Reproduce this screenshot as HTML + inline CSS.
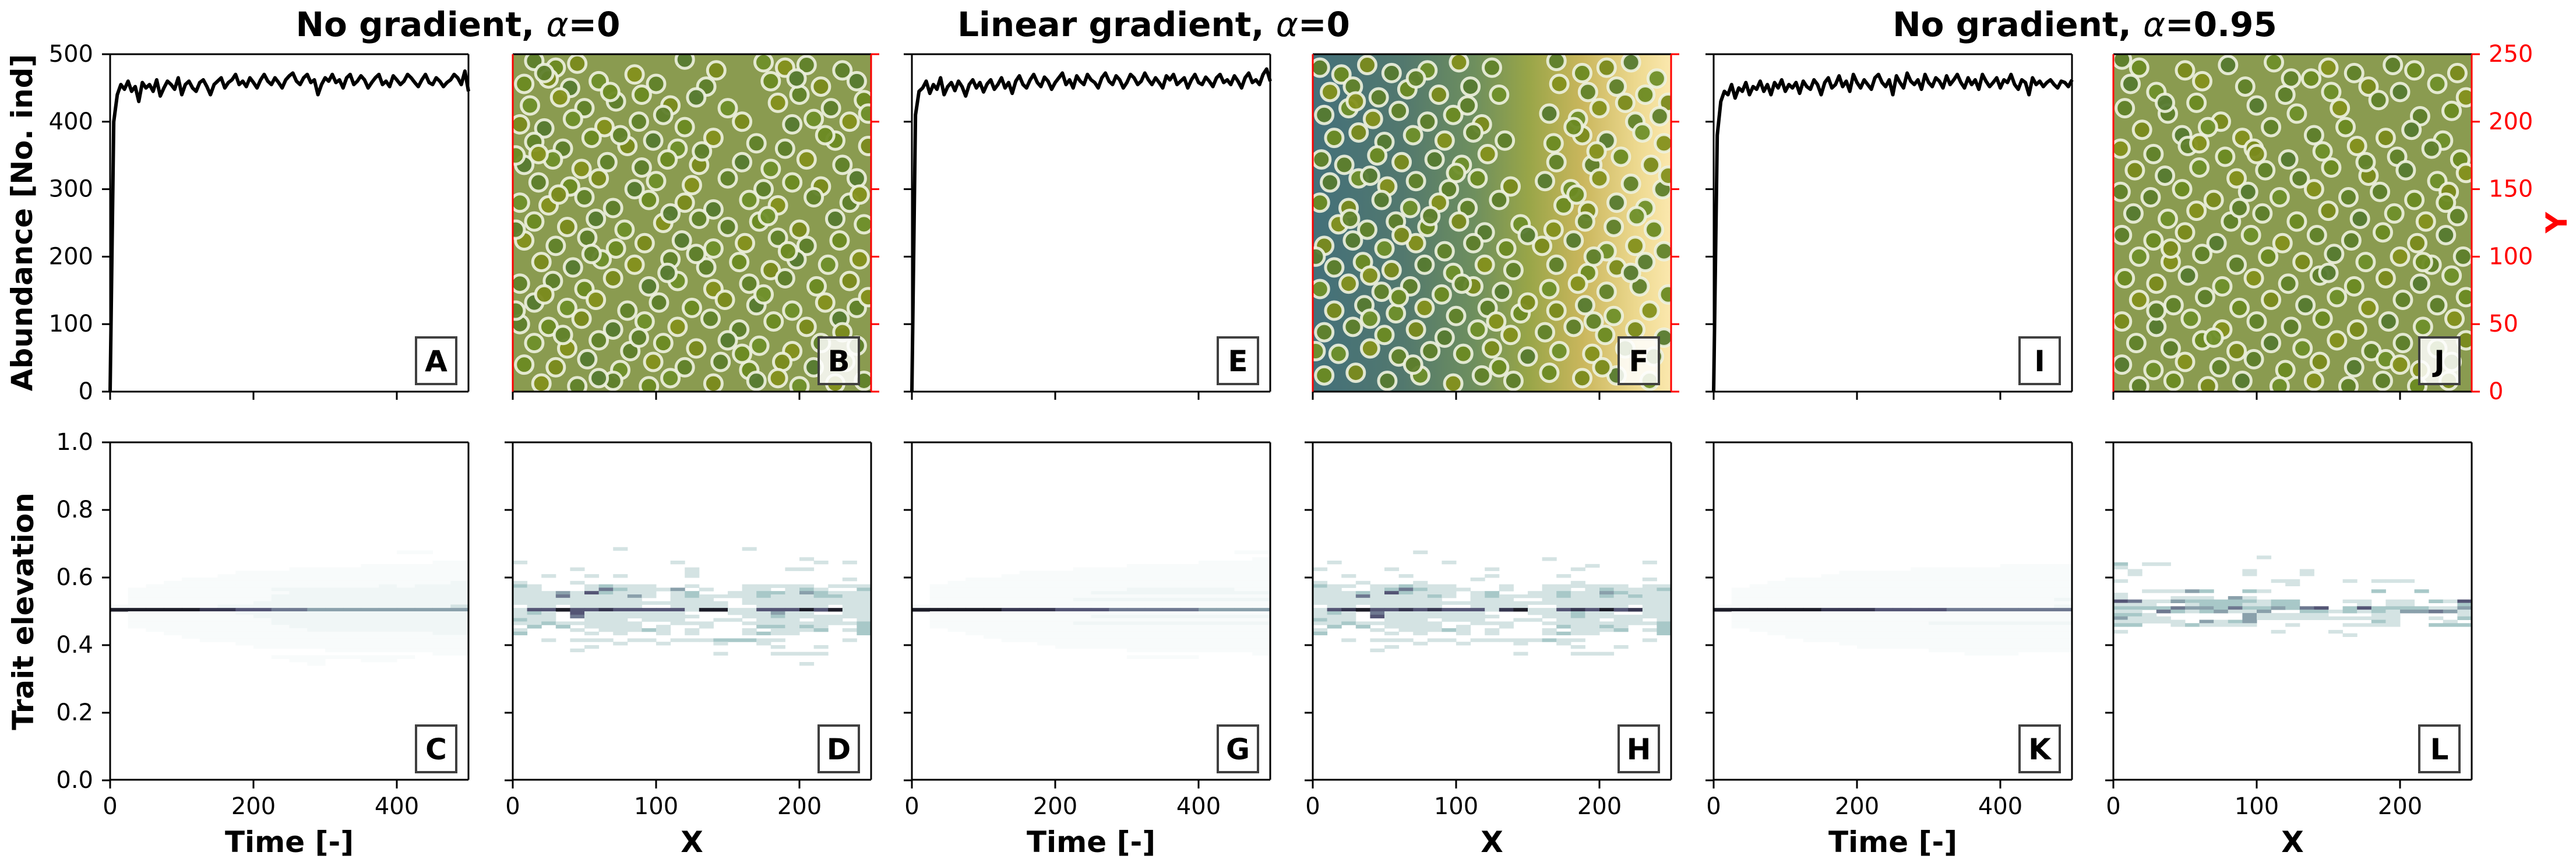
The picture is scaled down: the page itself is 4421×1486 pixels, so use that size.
<!DOCTYPE html>
<html><head><meta charset="utf-8"><style>
html,body{margin:0;padding:0;background:#fff;}
svg{display:block;font-family:"DejaVu Sans","Liberation Sans",sans-serif;}
</style></head><body>
<svg id="fig" width="4421" height="1486" viewBox="0 0 4421 1486" xmlns="http://www.w3.org/2000/svg">
<defs>
<linearGradient id="gradF" x1="0" y1="0" x2="1" y2="0">
<stop offset="0" stop-color="#43707a"/><stop offset="0.25" stop-color="#52786e"/>
<stop offset="0.45" stop-color="#6e8f5e"/><stop offset="0.6" stop-color="#98a548"/>
<stop offset="0.75" stop-color="#c9b65c"/><stop offset="0.9" stop-color="#ecd88e"/>
<stop offset="1" stop-color="#fbe8ae"/>
</linearGradient>
</defs>
</svg>
<script>
// ---------- data ----------
const abundanceA = [0,400,440,455,448,460,445,452,430,458,450,455,445,462,438,450,460,455,448,465,440,455,460,450,445,458,462,452,440,455,460,465,450,458,462,470,455,460,452,465,458,450,462,470,460,455,465,458,450,462,468,472,460,455,465,470,458,462,440,455,465,460,470,458,462,450,465,470,455,460,468,462,450,458,465,470,455,460,452,468,462,455,460,470,465,458,452,462,470,458,455,465,460,452,458,462,470,465,455,475,445];
const abundanceE = [0,410,445,450,460,442,455,448,465,440,452,458,446,460,452,438,455,462,450,458,444,456,462,448,455,465,450,458,442,460,468,455,450,462,470,458,452,466,460,448,458,465,472,455,462,450,468,460,455,470,462,458,450,465,472,460,455,468,462,450,458,470,465,455,460,472,462,455,465,458,450,468,462,470,455,460,465,450,462,470,458,455,466,460,452,465,470,458,462,455,468,460,450,465,472,458,462,455,470,478,460];
const abundanceI = [0,380,430,445,440,455,435,450,445,458,440,452,448,460,445,455,440,458,450,462,445,455,450,458,442,460,452,448,462,455,440,458,465,450,455,468,452,460,445,470,458,450,462,455,448,465,470,458,452,462,440,468,458,450,472,460,455,462,448,470,458,452,465,460,450,468,455,462,470,458,450,465,455,462,448,470,460,452,458,465,450,462,458,470,455,448,462,458,440,465,455,460,452,458,462,455,450,460,458,452,462];
const tMax = 500;

const ptsB = "15,245 30,240 45,243 120,246 175,244 190,240 205,242 230,238 8,228 25,232 40,225 60,230 85,235 100,228 135,226 180,230 215,226 240,230 12,212 33,218 50,210 72,215 90,220 110,212 128,218 150,210 185,214 200,220 222,210 245,216 5,198 22,195 42,202 64,196 88,200 105,205 120,196 160,200 195,198 210,202 235,200 15,185 35,180 55,188 80,182 98,186 115,180 140,188 170,184 190,180 225,186 248,182 8,168 28,172 48,165 66,170 90,166 108,172 130,168 160,170 180,165 205,172 230,168 18,155 40,152 60,158 85,150 100,156 125,153 150,158 175,150 195,155 215,152 240,158 5,140 25,138 50,144 70,136 95,142 120,140 140,135 165,142 185,138 210,144 235,140 15,126 38,122 58,128 78,120 105,125 130,128 150,122 172,126 200,120 225,128 245,124 8,112 30,108 52,114 72,106 92,110 118,112 140,106 162,110 185,114 205,108 228,112 20,96 42,92 62,98 85,94 110,98 135,92 158,96 180,90 198,98 220,94 242,98 5,80 28,82 50,76 70,84 95,78 115,82 140,76 165,80 190,84 212,78 235,82 15,66 38,62 58,68 80,60 102,66 125,62 148,68 170,64 195,60 218,66 240,62 5,50 25,48 48,54 70,46 92,52 115,48 138,54 158,46 182,52 205,48 228,54 15,36 38,32 60,38 82,30 105,36 128,32 150,38 172,34 195,30 215,36 240,34 8,20 30,18 52,24 75,16 98,22 120,18 145,22 165,16 188,22 210,18 232,22 20,6 45,4 70,8 95,4 140,6 170,8 200,4 225,6 245,8 22,236 68,222 142,238 198,232 248,206 18,176 75,190 132,178 218,190 32,146 110,132 178,130 242,146 55,102 128,102 192,104 22,72 108,88 175,72 248,70 35,42 88,40 160,28 230,44 60,10 110,10 185,10 2,60 2,120 2,175";
const ptsF = "5,240 20,235 38,242 55,236 80,238 102,244 125,240 170,245 188,236 205,240 222,244 240,232 12,222 28,226 46,218 66,224 88,220 110,226 130,220 172,228 192,222 212,226 232,220 248,214 8,205 25,210 42,202 60,208 80,200 98,205 118,198 165,206 185,202 200,210 225,200 242,204 15,188 32,192 50,185 70,190 92,186 112,192 134,186 168,184 188,190 205,186 230,192 245,184 6,172 22,168 45,175 62,170 85,172 104,168 122,176 170,170 195,168 215,174 236,168 12,155 32,158 52,152 72,156 95,150 115,158 138,152 162,156 180,150 200,158 222,154 244,150 5,140 25,136 48,142 68,136 88,140 108,136 130,142 175,138 192,134 212,140 232,136 18,124 38,120 58,126 80,122 102,126 120,118 145,124 168,120 190,126 210,122 238,120 8,108 28,112 50,106 72,110 92,104 112,110 135,106 160,108 182,112 205,104 225,108 245,104 15,92 35,96 55,90 78,94 98,88 120,94 140,90 170,94 192,88 212,92 232,96 5,76 25,80 48,74 68,78 90,72 112,78 132,74 165,76 185,80 205,74 228,78 248,72 15,60 36,64 58,58 78,62 100,56 122,62 145,58 170,60 190,64 210,56 235,60 8,44 28,48 50,42 72,46 92,40 115,46 138,42 162,44 182,48 204,42 225,46 245,40 18,28 40,32 60,26 82,30 105,28 125,32 150,26 172,30 195,28 218,32 238,26 8,12 30,14 52,8 75,12 98,6 118,12 140,8 165,14 188,10 212,12 235,8 30,215 72,232 108,212 182,196 218,214 40,160 100,162 198,178 26,128 82,130 184,146 62,116 150,116 226,130 40,86 104,80 196,100 60,70 150,66 222,88 40,54 128,52 196,52 70,20 130,18 202,18 2,100 2,30 248,160";
const ptsJ = "6,246 18,240 50,238 80,242 112,244 150,240 168,236 195,242 210,238 240,236 12,228 30,222 62,230 92,226 120,220 138,232 178,226 200,222 226,228 246,218 8,210 38,206 58,214 75,200 100,212 128,206 158,210 185,216 214,204 236,208 20,194 48,190 66,196 90,188 110,196 140,190 162,196 190,188 208,194 230,186 5,180 28,176 52,182 78,174 98,180 122,172 146,178 170,182 198,174 222,180 242,172 15,164 36,160 60,166 86,158 106,164 130,158 152,166 178,160 204,164 226,156 246,162 5,148 26,144 48,150 70,142 94,148 116,144 140,150 164,144 186,148 210,142 234,148 14,132 38,128 58,134 82,126 104,132 128,126 150,134 172,128 196,132 218,126 240,130 6,116 28,112 50,118 72,110 96,116 118,110 142,116 166,112 188,118 212,110 232,116 18,100 40,96 62,102 86,94 108,100 132,96 154,102 176,96 200,100 222,94 244,100 8,84 30,80 52,86 76,78 98,84 122,80 144,86 168,78 190,84 214,80 236,86 18,68 42,64 64,70 88,62 110,68 134,64 156,70 178,62 202,68 226,64 246,70 6,52 30,48 54,54 76,46 100,52 124,48 146,54 170,46 192,52 216,48 238,54 16,36 40,32 62,38 86,30 110,36 132,32 156,38 180,30 202,36 226,32 246,38 6,20 28,16 50,22 74,18 98,24 120,16 144,22 168,18 190,24 214,16 236,22 18,4 42,8 66,4 90,8 116,4 140,8 164,4 188,8 212,4 234,8 36,214 152,222 60,184 176,170 88,136 232,140 40,106 150,88 70,40 200,20 124,232 30,60 216,96 100,176";

// trait heatmaps: each string is one bin row (top -> bottom), each char an intensity level 0-9
const timeRowTop = 0.71, rowStep = 0.01, timeCols = 20;
const traitC = ["00000000000000000000","00000000000000000000","00000000000000000000","00000000000000001100","00000000000000000000","00000000000000000000","00000000000000000011","00000000000000111111","00000000001111111111","00000001111111111111","00000011111111111111","00001111111111111111","00011111111111111112","00111111111111121222","01111111122222222222","01111111112222222222","01111111122222222222","01111111122222222222","01111111222222222222","11111122222222222223","99999887766555555555","01111112222222222222","01111111222222222222","01111111122222222222","01111111122222222222","01111111112222222222","00111111111222222222","00011111111111111122","00001111111111111111","00000111111111111111","00000001111111111111","00000000111111111111","00000000000011111111","00000000000000000011","00000000011111111000","00000000001100110000","00000000000100000000"];
const traitG = ["00000000000000000000","00000000000000000000","00000000000000000000","00000000000000000011","00000000000000000000","00000000000000000001","00000000000000001111","00000000000011111111","00000000011111111111","00000011111111111111","00000111111111111111","00011111111111111111","00111111111111111111","01111111111111111111","01111111111122222211","01111111112222222222","01111111111111111111","01111111122222222222","01111111111111111111","11111111111111111111","99999888777666665555","01111111111111111111","01111111112222222222","01111111111111111111","01111111122222222222","01111111111111111111","00111111111111111111","00011111111111111111","00001111111111111111","00000111111111111111","00000001111111111111","00000000111111111111","00000000000011111111","00000000000000000001","00000000000011110000","00000000000000000000","00000000000000000000"];
const traitK = ["00000000000000000000","00000000000000000000","00000000000000000000","00000000000000000000","00000000000000000000","00000000000000000000","00000000000000000000","00000000000000001111","00000000000111111111","00000001111111111111","00000011111111111111","00001111111111111111","00011111111111111111","00111111111111111111","01111111111111111111","01111111111111111111","01111111111111111111","01111111111111111112","01111111111111111111","11111111111111111112","99999988877776666666","01111111111111111111","01111111111111111111","01111111111111111111","01111111111122222222","01111111111111111111","00111111111111111111","00011111111111111111","00001111111111111111","00000111111111111111","00000001111111111111","00000000111111111111","00000000000011111111","00000000000000111000","00000000000000000000","00000000000000000000","00000000000000000000"];

const spaceRowTop = 0.69, spaceRowTopL = 0.725, spaceCols = 25, xMax = 250;
const traitD = ["0000000300000000300000000","0000000000000000000000000","0000000000000000000000000","0000000000000000000030000","3000000000030000000003030","0000000000000000000000000","0000300000003000000330000","0000000000003000000000000","0030030300003000000000000","0000000000000000000000030","3000300000000000000000000","4300034333003000333330333","3300036433350300330343004","3335374333034003344354333","3336333353034333343334433","3333333330033300333333333","3333333333333330333333333","0330333330033330033333033","3779778777773993377797933","3430733333330003335330033","3330633333333000334333333","4330033303330033033303303","3343333330033300333333334","0404033330300300044343004","3000303334303000303334034","4000030300303000343300004","0000000000000000000000000","0030333033033344433000030","0000000300300030030000000","0000030000000000003003000","0000300000000000000000000","0000000000000030003333000","0000000000000000000000000","0000000000000000000000000","0000000000000000000030000"];
const traitH = ["0000000000000000000000000","0000000300000000000000000","0000000000000000000000000","0000000000000000300000000","0300000003000000000000030","0000000000000000000300000","3000030000003000003000000","0000000000000000000000000","0030003000003000030000000","0000000000030000000000030","3003000300000000003000000","4330334333000300333333033","3300346433300300330343334","3334374333034003343354333","3336333343034333343343433","3333333330033300333333333","3333333333333333333333333","0330333330033330033333033","3789778787773893378797833","3430633333330003334330033","3330733333333000334333333","4330033303330033033303303","3343333330033300333333334","0404033330300300043343004","3000303334303000303334034","4000030300303000343300004","0000000000000000000000000","0030333033033333433000030","0000000300300030030000000","0000030000000000003003000","0000300000000000000000000","0000000000000030003330000","0000000000000000000000000","0000000000000000000000000","0000000000000000000000000"];
const traitL = ["0000000000000000000000000","0000000000000000000000000","0000000000000000000000000","0000000000000000000000000","0000000000000000000000000","0000000000000000000000000","0000000000300000000000000","0000000000000000000000000","4033000000000000000000000","3000000000000000000000000","0300000003000300000000000","0300000003000300000000000","0000000000000000000000000","3000000000033000303330000","0000000000003000000000000","0000000000000000000000000","0033354004300000004004000","3000000000000000000000000","3000333053000000000000000","7633544444344000330330437","3330034443344000030330004","4444655464454670474444335","3306434533500443434355653","4430000005333330003300003","5333000005333333333300304","3333305345000000004300030","4400343333003000333300444","0000000000000000000000000","3000000000030003000000000","0000000000000000300000000","0000000000000000000000000","0000000000000000000000000","0000000000000000000000000","0000000000000000000000000","0000000000000000000000000"];

// ---------- layout ----------
const svg = document.getElementById('fig');
const NS = 'http://www.w3.org/2000/svg';
const colL = [189, 880, 1565, 2253, 2941, 3627], PW = 615;
const topY = 93, topB = 672, botY = 759, botB = 1339, PH = 579;
const cmap = ['#ffffff','#f8fbfb','#f0f6f6','#d4e3e3','#a8c8c8','#8aa0ab','#6e7890','#545575','#363650','#1c1c28'];
const fills = ['#5e7e2b','#6b8a22','#7a8a1c','#567a30','#6f8f2a','#84901c','#61822a'];

function el(tag, attrs, parent) {
  const e = document.createElementNS(NS, tag);
  for (const k in attrs) e.setAttribute(k, attrs[k]);
  (parent || svg).appendChild(e);
  return e;
}
function txt(x, y, s, size, opts) {
  const t = el('text', Object.assign({x: x, y: y, 'font-size': size, 'dominant-baseline': 'central'}, opts || {}));
  t.textContent = s;
  return t;
}
function xScale(left, max) { return v => left + v / max * PW; }
function yScale(top, bottom, min, max) { return v => bottom - (v - min) / (max - min) * (bottom - top); }

// titles
const titles = [["No gradient, ", "=0", 786], ["Linear gradient, ", "=0", 1980], ["No gradient, ", "=0.95", 3578]];
titles.forEach((tt, i) => {
  const t = txt(tt[2], 42, '', 58, {'font-weight': 'bold', 'text-anchor': 'middle'});
  
  
  const a = document.createElementNS(NS, 'tspan'); a.textContent = tt[0]; t.appendChild(a);
  const b = document.createElementNS(NS, 'tspan'); b.textContent = 'α'; b.setAttribute('font-style', 'italic'); b.setAttribute('font-weight', 'normal'); t.appendChild(b);
  const c = document.createElementNS(NS, 'tspan'); c.textContent = tt[1]; t.appendChild(c);
});

// axis labels
let yl = txt(0, 0, 'Abundance [No. ind]', 50, {'font-weight': 'bold', 'text-anchor': 'middle', transform: 'translate(38,382) rotate(-90)'});


yl = txt(0, 0, 'Trait elevation', 50, {'font-weight': 'bold', 'text-anchor': 'middle', transform: 'translate(40,1049) rotate(-90)'});


yl = txt(0, 0, 'Y', 50, {'font-weight': 'bold', 'text-anchor': 'middle', fill: '#ff0000', transform: 'translate(4388,382) rotate(-90)'});



function frame(left, top, opts) {
  const g = el('g', {});
  
  
  const r = left + PW, b = top + PH;
  const lc = opts.redLeft ? '#ff0000' : '#000';
  const rc = opts.redRight ? '#ff0000' : '#000';
  el('line', {x1: left, y1: top, x2: r, y2: top, stroke: '#000', 'stroke-width': 3}, g);
  el('line', {x1: left, y1: b, x2: r, y2: b, stroke: '#000', 'stroke-width': 3}, g);
  el('line', {x1: left, y1: top, x2: left, y2: b, stroke: lc, 'stroke-width': 3}, g);
  el('line', {x1: r, y1: top, x2: r, y2: b, stroke: rc, 'stroke-width': 3}, g);
  return g;
}
function xTicks(left, bottom, max, ticks, showLabels, name) {
  const xs = xScale(left, max);
  ticks.forEach(v => {
    el('line', {x1: xs(v), y1: bottom, x2: xs(v), y2: bottom + 14, stroke: '#000', 'stroke-width': 3});
    if (showLabels) {
      const t = txt(xs(v), bottom + 45, String(v), 40, {'text-anchor': 'middle'});
      
      
    }
  });
}
function yTicks(left, top, bottom, min, max, ticks, labels, name, side, color) {
  const ys = yScale(top, bottom, min, max);
  ticks.forEach((v, i) => {
    const x0 = side === 'right' ? left + PW : left;
    const x1 = side === 'right' ? x0 + 14 : x0 - 14;
    el('line', {x1: x0, y1: ys(v), x2: x1, y2: ys(v), stroke: color, 'stroke-width': 3});
    if (labels) {
      const t = txt(side === 'right' ? x1 + 15 : x1 - 15, ys(v), labels[i], 40, {'text-anchor': side === 'right' ? 'start' : 'end', fill: color});
      
      
    }
  });
}
function letterBox(left, top, letter) {
  const bx = left + PW - 21 - 69, by = top + PH - 13 - 80;
  const r = el('rect', {x: bx, y: by, width: 69, height: 80, fill: 'rgba(255,255,255,0.85)', stroke: '#404040', 'stroke-width': 4});
  
  
  const t = txt(bx + 34.5, by + 41, letter, 50, {'font-weight': 'bold', 'text-anchor': 'middle'});
  
  
}

// abundance panels
function abundancePanel(left, values, name, letter, showYLabels) {
  const xs = xScale(left, tMax), ys = yScale(topY, topB, 0, 500);
  const n = values.length;
  const d = values.map((v, i) => (i ? 'L' : 'M') + xs(i * tMax / (n - 1)).toFixed(1) + ',' + ys(v).toFixed(1)).join(' ');
  const p = el('path', {d: d, fill: 'none', stroke: '#000', 'stroke-width': 6, 'stroke-linejoin': 'round'});
  
  
  frame(left, topY, {name: name});
  xTicks(left, topB, tMax, [0, 200, 400], false, name);
  yTicks(left, topY, topB, 0, 500, [0, 100, 200, 300, 400, 500], showYLabels ? ['0', '100', '200', '300', '400', '500'] : null, name, 'left', '#000');
  letterBox(left, topY, letter);
}
abundancePanel(colL[0], abundanceA, 'abundance-a', 'A', true);
abundancePanel(colL[2], abundanceE, 'abundance-e', 'E', false);
abundancePanel(colL[4], abundanceI, 'abundance-i', 'I', false);

// scatter panels
function scatterPanel(left, ptsStr, bg, name, letter, showRightLabels) {
  const clipId = 'clip-' + name;
  const cp = el('clipPath', {id: clipId});
  el('rect', {x: left, y: topY, width: PW, height: PH}, cp);
  const bgr = el('rect', {x: left, y: topY, width: PW, height: PH, fill: bg});
  
  
  const g = el('g', {'clip-path': 'url(#' + clipId + ')'});
  
  
  const xs = xScale(left, 250), ys = yScale(topY, topB, 0, 250);
  ptsStr.trim().split(/\s+/).forEach((pr, i) => {
    const [x, y] = pr.split(',').map(Number);
    const c = el('circle', {cx: xs(x), cy: ys(y), r: 15, fill: fills[i % fills.length], 'fill-opacity': 0.95, stroke: 'rgba(238,242,224,0.9)', 'stroke-width': 5}, g);
    
    
  });
  frame(left, topY, {name: name, redLeft: true, redRight: true});
  xTicks(left, topB, 250, [0, 100, 200], false, name);
  yTicks(left, topY, topB, 0, 250, [0, 50, 100, 150, 200, 250], showRightLabels ? ['0', '50', '100', '150', '200', '250'] : null, name, 'right', '#ff0000');
  letterBox(left, topY, letter);
}
scatterPanel(colL[1], ptsB, '#8a9b50', 'space-b', 'B', false);
scatterPanel(colL[3], ptsF, 'url(#gradF)', 'space-f', 'F', false);
scatterPanel(colL[5], ptsJ, '#8a9b50', 'space-j', 'J', true);

// trait heatmaps
function heatPanel(left, rows, rowTop, ncols, xmax, ticks, name, letter, showYLabels, xlabel) {
  const ys = yScale(botY, botB, 0, 1), xs = xScale(left, xmax);
  const g = el('g', {});
  
  
  rows.forEach((row, ri) => {
    const yTop = rowTop - ri * rowStep;
    for (let ci = 0; ci < ncols; ci++) {
      const lv = +row[ci];
      if (!lv) continue;
      const x0 = xs(ci * xmax / ncols), x1 = xs((ci + 1) * xmax / ncols);
      const c = el('rect', {x: x0, y: ys(yTop), width: x1 - x0 + 0.5, height: ys(yTop - rowStep) - ys(yTop) + 0.5, fill: cmap[lv]}, g);
      
      
    }
  });
  frame(left, botY, {name: name});
  xTicks(left, botB, xmax, ticks, true, name);
  yTicks(left, botY, botB, 0, 1, [0, 0.2, 0.4, 0.6, 0.8, 1.0], showYLabels ? ['0.0', '0.2', '0.4', '0.6', '0.8', '1.0'] : null, name, 'left', '#000');
  letterBox(left, botY, letter);
  const t = txt(left + PW / 2, 1445, xlabel, 50, {'font-weight': 'bold', 'text-anchor': 'middle'});
  
  
}
heatPanel(colL[0], traitC, timeRowTop, timeCols, tMax, [0, 200, 400], 'trait-time-c', 'C', true, 'Time [-]');
heatPanel(colL[1], traitD, spaceRowTop, spaceCols, xMax, [0, 100, 200], 'trait-space-d', 'D', false, 'X');
heatPanel(colL[2], traitG, timeRowTop, timeCols, tMax, [0, 200, 400], 'trait-time-g', 'G', false, 'Time [-]');
heatPanel(colL[3], traitH, spaceRowTop, spaceCols, xMax, [0, 100, 200], 'trait-space-h', 'H', false, 'X');
heatPanel(colL[4], traitK, timeRowTop, timeCols, tMax, [0, 200, 400], 'trait-time-k', 'K', false, 'Time [-]');
heatPanel(colL[5], traitL, spaceRowTopL, spaceCols, xMax, [0, 100, 200], 'trait-space-l', 'L', false, 'X');
</script>
</body></html>
